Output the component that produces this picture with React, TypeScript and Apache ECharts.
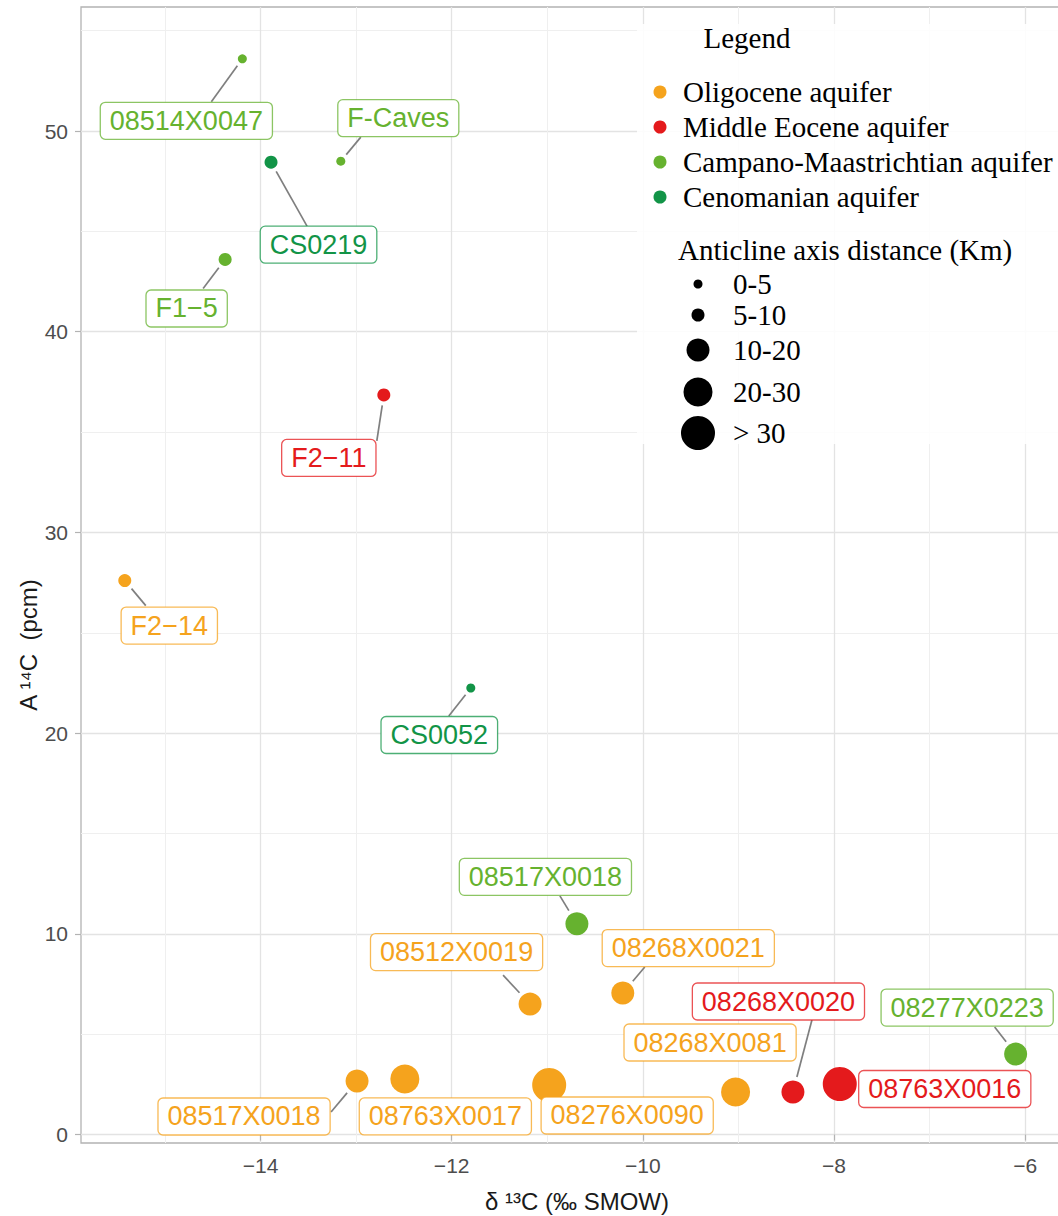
import React, { useEffect, useRef } from "react";
import * as echarts from "echarts";

// ---------------- DATA ----------------
const aquiferNames = [
  "Oligocene aquifer",
  "Middle Eocene aquifer",
  "Campano-Maastrichtian aquifer",
  "Cenomanian aquifer",
];
const distanceClasses = ["0-5", "5-10", "10-20", "20-30", "> 30"];

const oligoceneSamples = ["F2−14", "08512X0019", "08268X0021", "08517X0018", "08763X0017", "08276X0090", "08268X0081"];
const oligoceneD13C = [-15.42, -11.18, -10.21, -12.99, -12.49, -10.98, -9.03];
const oligoceneA14C = [27.6, 6.5, 7.05, 2.67, 2.77, 2.47, 2.12];
const oligoceneDistance = ["5-10", "10-20", "10-20", "10-20", "20-30", "> 30", "20-30"];

const eoceneSamples = ["F2−11", "08268X0020", "08763X0016"];
const eoceneD13C = [-12.71, -8.43, -7.94];
const eoceneA14C = [36.85, 2.12, 2.52];
const eoceneDistance = ["5-10", "10-20", "> 30"];

const campanoSamples = ["08514X0047", "F-Caves", "F1−5", "08517X0018", "08277X0223"];
const campanoD13C = [-14.19, -13.16, -14.37, -10.69, -6.1];
const campanoA14C = [53.6, 48.5, 43.6, 10.5, 4.01];
const campanoDistance = ["0-5", "0-5", "5-10", "10-20", "10-20"];

const cenomanianSamples = ["CS0219", "CS0052"];
const cenomanianD13C = [-13.89, -11.8];
const cenomanianA14C = [48.45, 22.25];
const cenomanianDistance = ["5-10", "0-5"];

const xTicks = [-14, -12, -10, -8, -6];
const yTicks = [0, 10, 20, 30, 40, 50];

// ---------------- LAYOUT / STYLE ----------------
const X_MIN = -15.878;
const X_MAX = -5.5;
const Y_MIN = -0.42;
const Y_MAX = 56.18;

const aquiferColors = ["#F5A31D", "#E41A1C", "#66B22F", "#129447"];
const aquiferBorders = ["rgba(245,163,29,0.75)", "rgba(228,26,28,0.75)", "rgba(102,178,47,0.75)", "rgba(18,148,71,0.75)"];
const classSizes = [9, 13, 23, 29, 34];

// label box centre offsets (px) from each point, per group in data order
const labelNudges: number[][][] = [
  [[44.5, 45], [-73.5, -52], [65.5, -45], [-113, 35.5], [40.5, 37.5], [78, 30.5], [-25.5, -49.5]],
  [[-55, 63], [-14.5, -90.5], [105, 5]],
  [[-56, 62], [57.5, -43], [-38.5, 49], [-31.5, -47], [-48.5, -46.5]],
  [[47.5, 82.5], [-31.5, 47]],
];
// leader segment end (px, relative to point) on the label box; null = no segment
const segmentEnds: (number[] | null)[][] = [
  [[21, 25], [-27, -29], [22, -26], [-26, 31], null, null, null],
  [[-7, 46], [19, -72], null],
  [[-31, 43], [20, -24], [-22, 29], [-17, -28], [-21, -27]],
  [[36, 64], [-22, 28]],
];

const SANS = '"Liberation Sans", Arial, Helvetica, sans-serif';
const SERIF = '"Liberation Serif", "Times New Roman", serif';
const LABEL_FONT = `27px ${SANS}`;
const LEGEND_FONT = `29px ${SERIF}`;

const groups = [
  { samples: oligoceneSamples, x: oligoceneD13C, y: oligoceneA14C, dist: oligoceneDistance },
  { samples: eoceneSamples, x: eoceneD13C, y: eoceneA14C, dist: eoceneDistance },
  { samples: campanoSamples, x: campanoD13C, y: campanoA14C, dist: campanoDistance },
  { samples: cenomanianSamples, x: cenomanianD13C, y: cenomanianA14C, dist: cenomanianDistance },
];

const fmtMinus = (v: number) => String(v).replace("-", "\u2212");

let measureCtx: CanvasRenderingContext2D | null = null;
function textWidth(t: string): number {
  if (!measureCtx) measureCtx = document.createElement("canvas").getContext("2d");
  if (!measureCtx) return t.length * 14;
  measureCtx.font = LABEL_FONT;
  return measureCtx.measureText(t).width;
}

export default function App() {
  const ref = useRef<HTMLDivElement>(null);

  useEffect(() => {
    if (!ref.current) return;
    const chart = echarts.init(ref.current, null, { renderer: "svg" });

    const pointSeries = groups.map((g, gi) => ({
      type: "scatter",
      name: aquiferNames[gi],
      z: 3,
      data: g.samples.map((s, i) => ({
        name: s,
        value: [g.x[i], g.y[i]],
        symbolSize: classSizes[distanceClasses.indexOf(g.dist[i])],
      })),
      symbol: "circle",
      itemStyle: { color: aquiferColors[gi], opacity: 1 },
      emphasis: { disabled: true },
    }));

    const labelRows: number[][] = [];
    groups.forEach((g, gi) => g.samples.forEach((_, i) => labelRows.push([g.x[i], g.y[i], gi, i])));

    const labelSeries = {
      type: "custom",
      z: 5,
      silent: true,
      coordinateSystem: "cartesian2d",
      encode: { x: 0, y: 1 },
      data: labelRows,
      clip: false,
      renderItem: (params: any, api: any) => {
        const gi = api.value(2);
        const ii = api.value(3);
        const g = groups[gi];
        const p = api.coord([api.value(0), api.value(1)]);
        const text = g.samples[ii];
        const nudge = labelNudges[gi][ii];
        const cx = p[0] + nudge[0];
        const cy = p[1] + nudge[1];
        const w = textWidth(text) + 19;
        const h = 37;
        const color = aquiferColors[gi];
        const children: any[] = [];
        const end = segmentEnds[gi][ii];
        if (end) {
          const r = classSizes[distanceClasses.indexOf(g.dist[ii])] / 2;
          const len = Math.hypot(end[0], end[1]);
          const ux = end[0] / len;
          const uy = end[1] / len;
          children.push({
            type: "line",
            shape: {
              x1: p[0] + ux * (r + 4),
              y1: p[1] + uy * (r + 4),
              x2: p[0] + end[0],
              y2: p[1] + end[1],
            },
            style: { stroke: "#7f7f7f", lineWidth: 1.7 },
          });
        }
        children.push({
          type: "rect",
          shape: { x: cx - w / 2, y: cy - h / 2, width: w, height: h, r: 5 },
          style: { fill: "#ffffff", stroke: aquiferBorders[gi], lineWidth: 1.3 },
        });
        children.push({
          type: "text",
          x: cx,
          y: cy,
          style: {
            text,
            font: LABEL_FONT,
            fill: color,
            align: "center",
            verticalAlign: "middle",
            textAlign: "center",
            textVerticalAlign: "middle",
          },
        });
        return { type: "group", children };
      },
    };

    // legend graphic
    const els: any[] = [
      {
        type: "rect",
        shape: { x: 637, y: 24, width: 430, height: 420 },
        style: { fill: "rgba(255,255,255,0.88)" },
        z: 5,
        silent: true,
      },
      {
        type: "text",
        x: 747,
        y: 38,
        z: 10,
        style: { text: "Legend", font: LEGEND_FONT, fill: "#000", align: "center", verticalAlign: "middle", textAlign: "center", textVerticalAlign: "middle" },
      },
    ];
    const colorRowsY = [92, 127, 162, 197];
    aquiferNames.forEach((n, i) => {
      els.push({ type: "circle", z: 10, shape: { cx: 660, cy: colorRowsY[i], r: 6.5 }, style: { fill: aquiferColors[i] } });
      els.push({
        type: "text",
        z: 10,
        x: 683,
        y: colorRowsY[i],
        style: { text: n, font: LEGEND_FONT, fill: "#000", align: "left", verticalAlign: "middle", textAlign: "left", textVerticalAlign: "middle" },
      });
    });
    els.push({
      type: "text",
      z: 10,
      x: 678,
      y: 250,
      style: { text: "Anticline axis distance (Km)", font: LEGEND_FONT, fill: "#000", align: "left", verticalAlign: "middle", textAlign: "left", textVerticalAlign: "middle" },
    });
    const sizeRowsY = [284, 315, 350, 392, 433];
    distanceClasses.forEach((c, i) => {
      els.push({ type: "circle", z: 10, shape: { cx: 698, cy: sizeRowsY[i], r: classSizes[i] / 2 }, style: { fill: "#000" } });
      els.push({
        type: "text",
        z: 10,
        x: 733,
        y: sizeRowsY[i],
        style: { text: c, font: LEGEND_FONT, fill: "#000", align: "left", verticalAlign: "middle", textAlign: "left", textVerticalAlign: "middle" },
      });
    });
    els.push({
      type: "text",
      z: 10,
      x: 28,
      y: 645,
      rotation: Math.PI / 2,
      style: { text: "A \u00B9\u2074C  (pcm)", font: `24px ${SANS}`, fill: "#1a1a1a", align: "center", verticalAlign: "middle", textAlign: "center", textVerticalAlign: "middle" },
    });

    chart.setOption({
      animation: false,
      backgroundColor: "#ffffff",
      grid: {
        left: 81,
        right: -15,
        top: 7,
        bottom: 73,
        show: true,
        borderColor: "#b3b3b3",
        borderWidth: 1.3,
        backgroundColor: "transparent",
        containLabel: false,
        outerBoundsMode: "none",
      },
      xAxis: {
        type: "value",
        min: X_MIN,
        max: X_MAX,
        axisLine: { show: false },
        axisTick: { show: true, length: 6, lineStyle: { color: "#b3b3b3", width: 1.2 }, customValues: xTicks },
        axisLabel: { customValues: xTicks, formatter: fmtMinus, fontSize: 21, color: "#4d4d4d", fontFamily: SANS, margin: 12 },
        splitLine: { show: true, lineStyle: { color: "#e3e3e3", width: 1.3 } },
        minorTick: { show: false, splitNumber: 2 },
        minorSplitLine: { show: true, lineStyle: { color: "#efefef", width: 1 } },
        name: "δ \u00B9\u00B3C (‰ SMOW)",
        nameLocation: "middle",
        nameGap: 46,
        nameTextStyle: { fontSize: 24, color: "#1a1a1a", fontFamily: SANS },
      },
      yAxis: {
        type: "value",
        min: Y_MIN,
        max: Y_MAX,
        axisLine: { show: false },
        axisTick: { show: true, length: 6, lineStyle: { color: "#b3b3b3", width: 1.2 }, customValues: yTicks },
        axisLabel: { customValues: yTicks, formatter: fmtMinus, fontSize: 21, color: "#4d4d4d", fontFamily: SANS, margin: 13 },
        splitLine: { show: true, lineStyle: { color: "#e3e3e3", width: 1.3 } },
        minorTick: { show: false, splitNumber: 2 },
        minorSplitLine: { show: true, lineStyle: { color: "#efefef", width: 1 } },
      },
      series: [...pointSeries, labelSeries],
      graphic: els,
    });

    return () => chart.dispose();
  }, []);

  return (
    <div
      ref={ref}
      style={{ position: "absolute", left: 0, top: 0, width: 1058, height: 1216, background: "#fff" }}
    />
  );
}
